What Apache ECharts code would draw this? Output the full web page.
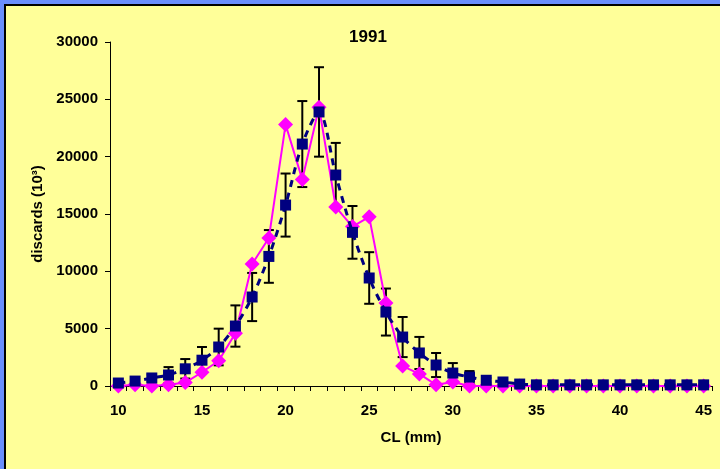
<!DOCTYPE html>
<html><head><meta charset="utf-8">
<script src="https://cdn.jsdelivr.net/npm/echarts@6/dist/echarts.min.js"></script>
<style>
html,body{margin:0;padding:0;}
#wrap{position:relative;width:720px;height:469px;overflow:hidden;}
#chart{position:absolute;left:0;top:0;width:720px;height:469px;}
.b{position:absolute;}
</style></head>
<body>
<div id="wrap">
<div id="chart"></div>
<div class="b" style="left:0;top:0;width:720px;height:4px;background:#6A8EFE"></div>
<div class="b" style="left:0;top:0;width:4px;height:469px;background:#6A8EFE"></div>
<div class="b" style="left:4px;top:4px;width:716px;height:2px;background:#000"></div>
<div class="b" style="left:4px;top:4px;width:2px;height:465px;background:#000"></div>
</div>
<script>
const categories = [10,11,12,13,14,15,16,17,18,19,20,21,22,23,24,25,26,27,28,29,30,31,32,33,34,35,36,37,38,39,40,41,42,43,44,45];
const observed = [260,430,700,960,1500,2250,3400,5230,7760,11300,15780,21100,23900,18400,13400,9420,6450,4270,2880,1830,1130,780,500,350,170,100,100,100,100,100,100,100,100,100,100,100];
const observedErr = [150,200,300,690,850,1150,1600,1800,2100,2300,2750,3750,3900,2800,2300,2250,2050,1750,1400,1050,870,520,200,100,50,0,0,0,0,0,0,0,0,0,0,0];
const modelled = [0,100,0,100,300,1200,2200,4600,10640,12900,22800,18000,24300,15600,13900,14750,7240,1740,1050,100,350,0,0,0,0,0,0,0,0,0,0,0,0,0,0,0];
const yTicks = {min:0, max:30000, interval:5000};

const chart = echarts.init(document.getElementById('chart'), null, {renderer:'canvas'});
const font = '"Liberation Sans", Arial, sans-serif';
const errData = categories.map((c,i)=>[i, observed[i]-observedErr[i], observed[i]+observedErr[i]]);

chart.setOption({
  backgroundColor:'#FFFF99',
  animation:false,
  title:{text:'1991', left:363, top:24, textAlign:'center',
    textStyle:{fontFamily:font, fontWeight:'bold', fontSize:17, color:'#000'}},
  grid:{left:110, right:8, top:42, bottom:83},
  xAxis:{type:'category', data:categories.map(String), boundaryGap:true,
    name:'CL (mm)', nameLocation:'middle', nameGap:44,
    nameTextStyle:{fontFamily:font, fontWeight:'bold', fontSize:15, color:'#000'},
    axisLine:{lineStyle:{color:'#000', width:1}},
    axisTick:{show:true, interval:0, alignWithLabel:false, length:5, lineStyle:{color:'#000'}},
    axisLabel:{interval:4, margin:17, fontFamily:font, fontWeight:'bold', fontSize:15, color:'#000'},
    splitLine:{show:false}},
  yAxis:{type:'value', min:yTicks.min, max:yTicks.max, interval:yTicks.interval,
    name:'discards (10³)', nameLocation:'middle', nameGap:63, nameRotate:90,
    nameTextStyle:{fontFamily:font, fontWeight:'bold', fontSize:15, color:'#000'},
    axisLine:{show:true, lineStyle:{color:'#000', width:1}},
    axisTick:{show:true, length:5, inside:false, lineStyle:{color:'#000'}},
    axisLabel:{margin:12, fontFamily:font, fontWeight:'bold', fontSize:15, color:'#000',
      formatter:function(v){return String(v);}},
    splitLine:{show:false}},
  series:[
    {type:'custom', name:'err', data:errData, z:2,
     renderItem:function(params, api){
       const x = api.value(0);
       const lo = api.coord([x, api.value(1)]);
       const hi = api.coord([x, api.value(2)]);
       const hw = 5;
       const st = {stroke:'#000', lineWidth:2};
       return {type:'group', children:[
         {type:'line', shape:{x1:lo[0], y1:lo[1], x2:hi[0], y2:hi[1]}, style:st},
         {type:'line', shape:{x1:lo[0]-hw, y1:lo[1], x2:lo[0]+hw, y2:lo[1]}, style:st},
         {type:'line', shape:{x1:hi[0]-hw, y1:hi[1], x2:hi[0]+hw, y2:hi[1]}, style:st}
       ]};
     }},
    {type:'line', name:'modelled', data:modelled, smooth:false, showAllSymbol:true,
     symbol:'diamond', symbolSize:15, itemStyle:{color:'#FF00FF'},
     lineStyle:{color:'#FF00FF', width:2}, z:3},
    {type:'line', name:'observed', data:observed, smooth:0.3, showAllSymbol:true,
     symbol:'rect', symbolSize:11, itemStyle:{color:'#000080'},
     lineStyle:{color:'#000080', width:3, type:[7,6]}, z:4}
  ]
});
</script>
</body></html>
